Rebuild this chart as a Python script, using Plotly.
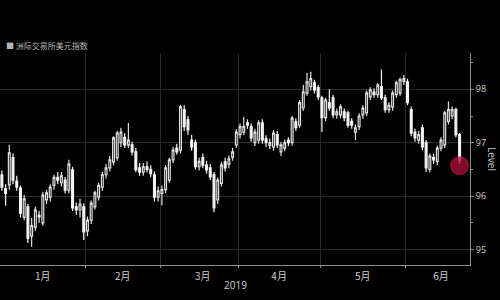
import pandas as pd
import plotly.graph_objects as go

# ---- data (ICE US Dollar Index, daily OHLC, Jan–Jun 2019) ----
open_vals = [
    96.40, 96.14, 96.21, 96.72, 96.28, 96.15, 95.60, 95.80, 95.25, 95.42, 95.64, 95.50,
    95.93, 95.98, 96.20, 96.35, 96.25, 96.30, 96.11, 96.49, 95.80, 95.74, 95.80,
    95.35, 95.55, 95.80, 95.98, 96.17, 96.40, 96.53, 96.64, 96.72, 97.00, 97.10, 96.96,
    96.96, 96.83, 96.53, 96.45, 96.55, 96.50, 96.40, 95.98,
    96.05, 96.12, 96.30, 96.68, 96.90, 96.86, 97.62, 97.43, 97.05, 97.00, 96.55, 96.72,
    96.58, 96.53, 96.40, 95.93, 96.24, 96.64, 96.60, 96.73, 96.96,
    97.15, 97.20, 97.37, 97.30, 97.00, 97.05, 97.37, 97.07, 96.95, 96.92, 97.15, 96.83,
    96.90, 97.05, 97.00, 97.39, 97.33, 97.65, 97.93, 98.05, 98.12, 98.03,
    97.84, 97.47, 97.75, 97.84, 97.52, 97.52, 97.58, 97.56, 97.40, 97.20, 97.30, 97.52,
    97.56, 97.86, 97.95, 97.90, 98.05, 97.84, 97.62, 97.67, 97.90, 97.93, 98.15,
    98.14, 97.62, 97.20, 97.05, 97.28, 97.00, 96.50, 96.72, 96.65, 96.90, 96.96, 97.40,
    97.50, 97.62, 97.15,
]
high_vals = [
    96.48, 96.22, 96.96, 96.80, 96.38, 96.20, 96.02, 95.85, 95.59, 95.80, 95.72, 96.08,
    96.12, 96.22, 96.40, 96.45, 96.45, 96.36, 96.68, 96.55, 95.88, 95.95, 95.86,
    95.62, 95.92, 96.10, 96.25, 96.45, 96.60, 96.75, 97.12, 97.22, 97.28, 97.18, 97.37,
    97.02, 96.90, 96.62, 96.62, 96.65, 96.58, 96.46, 96.18,
    96.20, 96.58, 96.72, 96.92, 96.98, 97.71, 97.70, 97.50, 97.15, 97.06, 96.72, 96.80,
    96.66, 96.60, 96.45, 96.35, 96.64, 96.72, 96.76, 96.90, 97.25,
    97.36, 97.48, 97.44, 97.36, 97.26, 97.42, 97.44, 97.14, 97.08, 97.24, 97.22, 97.02,
    97.06, 97.10, 97.50, 97.46, 97.80, 98.08, 98.31, 98.33, 98.18, 98.08,
    97.88, 97.84, 98.00, 97.90, 97.64, 97.72, 97.64, 97.60, 97.46, 97.34, 97.55, 97.70,
    97.98, 98.04, 98.02, 98.12, 98.37, 97.90, 97.76, 97.98, 98.16, 98.22, 98.27,
    98.20, 97.68, 97.26, 97.22, 97.34, 97.05, 96.80, 96.80, 96.95, 97.10, 97.60, 97.77,
    97.68, 97.66, 97.18,
]
low_vals = [
    96.10, 95.82, 96.12, 96.22, 96.10, 95.60, 95.55, 95.12, 95.05, 95.35, 95.50, 95.45,
    95.85, 95.90, 96.12, 96.22, 96.18, 96.05, 96.05, 95.72, 95.65, 95.60, 95.18,
    95.25, 95.48, 95.75, 95.92, 96.10, 96.33, 96.46, 96.58, 96.66, 96.92, 96.90, 96.90,
    96.76, 96.45, 96.38, 96.38, 96.44, 96.36, 95.90, 95.90,
    95.83, 96.06, 96.25, 96.62, 96.78, 96.80, 97.22, 97.15, 96.85, 96.50, 96.48, 96.52,
    96.42, 96.30, 95.70, 95.85, 96.18, 96.46, 96.52, 96.66, 96.90,
    97.08, 97.14, 97.26, 97.02, 96.94, 96.98, 96.98, 96.92, 96.88, 96.85, 96.90, 96.75,
    96.84, 96.94, 96.95, 97.22, 97.28, 97.60, 97.88, 97.98, 97.92, 97.80,
    97.20, 97.40, 97.60, 97.46, 97.45, 97.46, 97.40, 97.28, 97.26, 97.05, 97.24, 97.45,
    97.50, 97.80, 97.84, 97.84, 97.80, 97.56, 97.56, 97.60, 97.84, 97.88, 98.08,
    97.70, 97.12, 97.02, 96.98, 96.86, 96.45, 96.44, 96.60, 96.58, 96.84, 96.90, 97.34,
    97.44, 97.10, 96.60,
]
close_vals = [
    96.17, 96.05, 96.81, 96.30, 96.17, 95.68, 95.95, 95.21, 95.45, 95.74, 95.61, 96.02,
    96.06, 96.17, 96.35, 96.30, 96.38, 96.11, 96.60, 95.78, 95.74, 95.85, 95.33,
    95.55, 95.87, 96.06, 96.20, 96.40, 96.53, 96.68, 97.09, 97.18, 97.20, 96.96, 97.05,
    96.83, 96.49, 96.45, 96.55, 96.50, 96.42, 95.98, 96.10,
    96.12, 96.53, 96.68, 96.86, 96.83, 97.67, 97.30, 97.24, 96.92, 96.55, 96.65, 96.58,
    96.49, 96.36, 95.78, 96.30, 96.58, 96.53, 96.70, 96.83, 97.20,
    97.30, 97.30, 97.33, 97.09, 97.20, 97.37, 97.05, 97.00, 97.00, 97.18, 96.96, 96.96,
    97.00, 97.00, 97.46, 97.28, 97.75, 97.95, 98.14, 98.20, 97.99, 97.86,
    97.47, 97.80, 97.65, 97.52, 97.58, 97.67, 97.47, 97.33, 97.33, 97.28, 97.50, 97.65,
    97.93, 97.99, 97.90, 98.08, 97.84, 97.62, 97.70, 97.93, 98.12, 98.18, 98.20,
    97.75, 97.18, 97.09, 97.15, 96.92, 96.53, 96.75, 96.68, 96.90, 97.05, 97.56, 97.62,
    97.62, 97.15, 96.68,
]
dates = pd.bdate_range("2019-01-01", "2019-06-21") + pd.Timedelta(hours=12)

month_labels_fmt = "%-m月"
title_text = "■ 洲际交易所美元指数"
year_text = "2019"
yaxis_title = "Level"
y_ticks = [95, 96, 97, 98]

FONT = "Open Sans, Noto Sans CJK SC, sans-serif"
CJK = "Noto Sans CJK SC, sans-serif"

fig = go.Figure()
fig.add_trace(go.Candlestick(
    x=dates, open=open_vals, high=high_vals, low=low_vals, close=close_vals,
    increasing=dict(line=dict(color="#e0e0e0", width=1.2), fillcolor="#000000"),
    decreasing=dict(line=dict(color="#f4f4f4", width=1.2), fillcolor="#f4f4f4"),
    showlegend=False, hoverinfo="skip",
))
# highlight latest close
fig.add_trace(go.Scatter(
    x=[dates[-1]], y=[close_vals[-1] - 0.11], mode="markers",
    marker=dict(size=18, color="rgba(175,15,55,0.75)",
                line=dict(width=1, color="rgba(210,40,80,0.6)")),
    showlegend=False, hoverinfo="skip",
))

fig.update_layout(
    width=500, height=300,
    margin=dict(l=0, r=30, t=53, b=35),
    paper_bgcolor="#000000", plot_bgcolor="#000000",
    font=dict(family=FONT, color="#cfcfcf", size=10),
    xaxis=dict(
        type="date",
        range=["2019-01-01 00:00", "2019-06-26 07:00"],
        rangebreaks=[dict(bounds=["sat", "mon"])],
        rangeslider=dict(visible=False),
        dtick="M1", tick0="2019-01-01",
        ticklabelmode="period", tickformat=month_labels_fmt,
        tickfont=dict(family=CJK, size=10, color="#cfcfcf"),
        showgrid=True, gridcolor="#2b2b2b", gridwidth=1,
        showline=True, linecolor="#8f8f8f", linewidth=1,
        ticks="outside", ticklen=2, tickcolor="#8f8f8f",
        zeroline=False,
    ),
    yaxis=dict(
        side="right",
        range=[94.71, 98.68],
        tickvals=y_ticks,
        tickfont=dict(size=9, color="#cfcfcf"),
        showgrid=True, gridcolor="#2b2b2b", gridwidth=1,
        showline=True, linecolor="#8f8f8f", linewidth=1,
        ticks="outside", ticklen=3, tickcolor="#8f8f8f",
        minor=dict(dtick=0.5, ticks="outside", ticklen=2, tickcolor="#8f8f8f", showgrid=False),
        zeroline=False,
    ),
    annotations=[
        dict(text=title_text, xref="paper", yref="paper", x=0.008, y=1.0,
             yshift=8, xanchor="left", yanchor="middle", showarrow=False,
             font=dict(family=CJK, size=8, color="#b5b5b5")),
        dict(text=year_text, xref="paper", yref="paper", x=0.5, y=0, yshift=-11,
             xanchor="center", yanchor="top", showarrow=False,
             font=dict(size=10, color="#cfcfcf")),
        dict(text=yaxis_title, xref="paper", yref="paper", x=1.0, xshift=22, y=0.5,
             xanchor="center", yanchor="middle", textangle=90, showarrow=False,
             font=dict(size=10, color="#cfcfcf")),
    ],
)

fig.write_html("out.html")
